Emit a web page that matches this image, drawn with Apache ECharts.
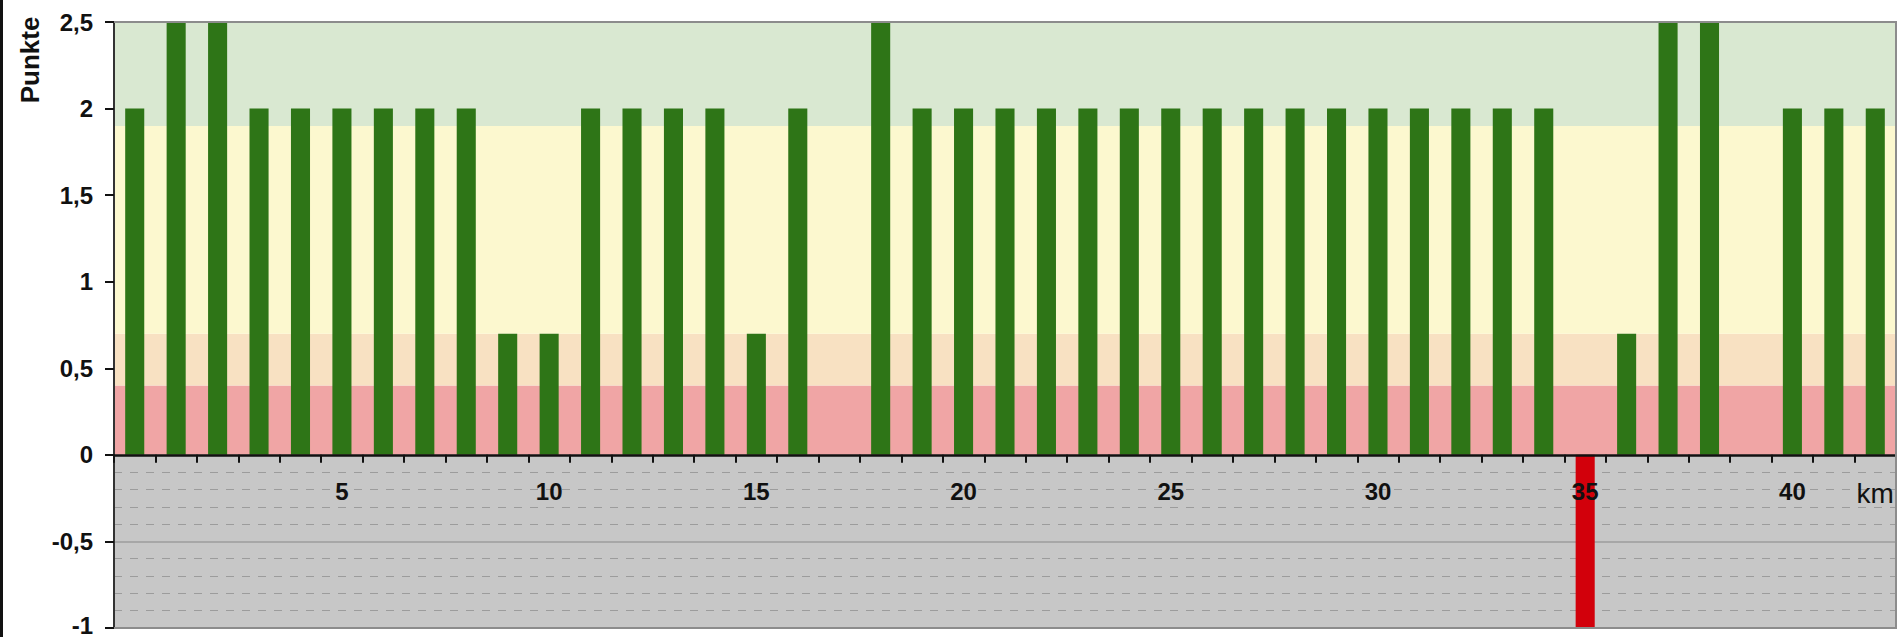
<!DOCTYPE html>
<html>
<head>
<meta charset="utf-8">
<script src="https://cdn.jsdelivr.net/npm/echarts@6/dist/echarts.min.js"></script>
<style>
html,body{margin:0;padding:0;background:#fff;}
#chart{width:1897px;height:637px;}
</style>
</head>
<body>
<div id="chart"></div>
<script>
// ---- data ----
var categories = ['0','1','2','3','4','5','6','7','8','9','10','11','12','13','14','15','16','17','18','19','20','21','22','23','24','25','26','27','28','29','30','31','32','33','34','35','36','37','38','39','40','41','42'];
var xTickLabels = ['','','','','','5','','','','','10','','','','','15','','','','','20','','','','','25','','','','','30','','','','','35','','','','','40','','km'];
var punkte = [2,2.5,2.5,2,2,2,2,2,2,0.7,0.7,2,2,2,2,0.7,2,0,2.5,2,2,2,2,2,2,2,2,2,2,2,2,2,2,2,2,-1,0.7,2.5,2.5,0,2,2,2];
var yMin = -1, yMax = 2.5, yStep = 0.5;
var bandBounds = [-1,0,0.4,0.7,1.9,2.5];
var bandColors = ['#c7c7c7','#f0a5a5','#f8e1c2','#fcf8cf','#d9e8d1'];
var dashedLevels = [-0.1,-0.2,-0.3,-0.4,-0.6,-0.7,-0.8,-0.9];
var solidLevels = [-0.5];

var chart = echarts.init(document.getElementById('chart'), null, {renderer:'svg'});

var areas = [];
for (var i = 0; i < bandColors.length; i++) {
  areas.push([{yAxis: bandBounds[i], itemStyle:{color: bandColors[i], opacity:1}}, {yAxis: bandBounds[i+1]}]);
}
var lines = [];
dashedLevels.forEach(function(v){ lines.push({yAxis:v, lineStyle:{type:[8,8], color:'#9c9c9c', width:1}}); });
solidLevels.forEach(function(v){ lines.push({yAxis:v, lineStyle:{type:'solid', color:'#9c9c9c', width:1.5}}); });

var GL = 114, GT = 22, GR = 1896, GB = 628;
// pixel shift of the x axis from the grid bottom up to the zero line (fallback if onZero is ignored)
var zeroOffset = -((GB - GT) * (0 - yMin) / (yMax - yMin));
var FONT = 'Liberation Sans, Arial, sans-serif';

chart.setOption({
  animation:false,
  backgroundColor:'#ffffff',
  grid:{left:GL, top:GT, right:1897-GR, bottom:637-GB, containLabel:false, outerBoundsMode:'none'},
  xAxis:{
    type:'category',
    data:categories,
    boundaryGap:true,
    z:10,
    offset:zeroOffset,
    axisLine:{show:true, onZero:true, lineStyle:{color:'#111', width:2.5}},
    axisTick:{show:true, interval:0, length:8, lineStyle:{color:'#111', width:2}},
    axisLabel:{
      show:true, interval:0, margin:25, hideOverlap:false,
      fontFamily:FONT, fontSize:24, fontWeight:'bold', color:'#111',
      formatter:function(v, idx){
        var t = xTickLabels[idx];
        if (t === 'km') return '{km|km}';
        return t;
      },
      rich:{km:{fontFamily:FONT, fontSize:28, fontWeight:'normal', color:'#111'}}
    },
    splitLine:{show:false}
  },
  yAxis:{
    type:'value',
    min:yMin, max:yMax, interval:yStep,
    z:10,
    axisLine:{show:true, lineStyle:{color:'#333', width:2}},
    axisTick:{show:true, length:9, lineStyle:{color:'#111', width:2}},
    axisLabel:{
      margin:21, fontFamily:FONT, fontSize:24, fontWeight:'bold', color:'#111',
      formatter:function(v){
        var s = String(v).replace('.', ',');
        return v === yMin ? '{low|' + s + '}' : s;
      },
      rich:{low:{fontFamily:FONT, fontSize:24, fontWeight:'bold', color:'#111', padding:[0,0,6,0]}}
    },
    splitLine:{show:false}
  },
  series:[
    {
      type:'line', data:[], silent:true, z:1, symbol:'none',
      markArea:{silent:true, z:1, label:{show:false}, data:areas},
      markLine:{silent:true, z:2, symbol:['none','none'], label:{show:false}, data:lines, animation:false}
    },
    {
      type:'bar', data:punkte, z:3, barWidth:'46%',
      itemStyle:{color:function(p){ return p.value < 0 ? '#d2000b' : '#2e7517'; }}
    }
  ],
  graphic:[
    {type:'polyline', z:50, silent:true, shape:{points:[[GL,GT],[GR,GT],[GR,GB],[GL,GB]]}, style:{fill:null, stroke:'#8c8c8c', lineWidth:2}},
    {type:'rect', z:50, silent:true, shape:{x:0, y:0, width:3, height:637}, style:{fill:'#111'}},
    {type:'text', z:50, silent:true, x:30, y:60, rotation:Math.PI/2,
     style:{text:'Punkte', fill:'#111', font:'bold 26px "Liberation Sans", Arial, sans-serif', textAlign:'center', textVerticalAlign:'middle'}}
  ]
});
</script>
</body>
</html>
